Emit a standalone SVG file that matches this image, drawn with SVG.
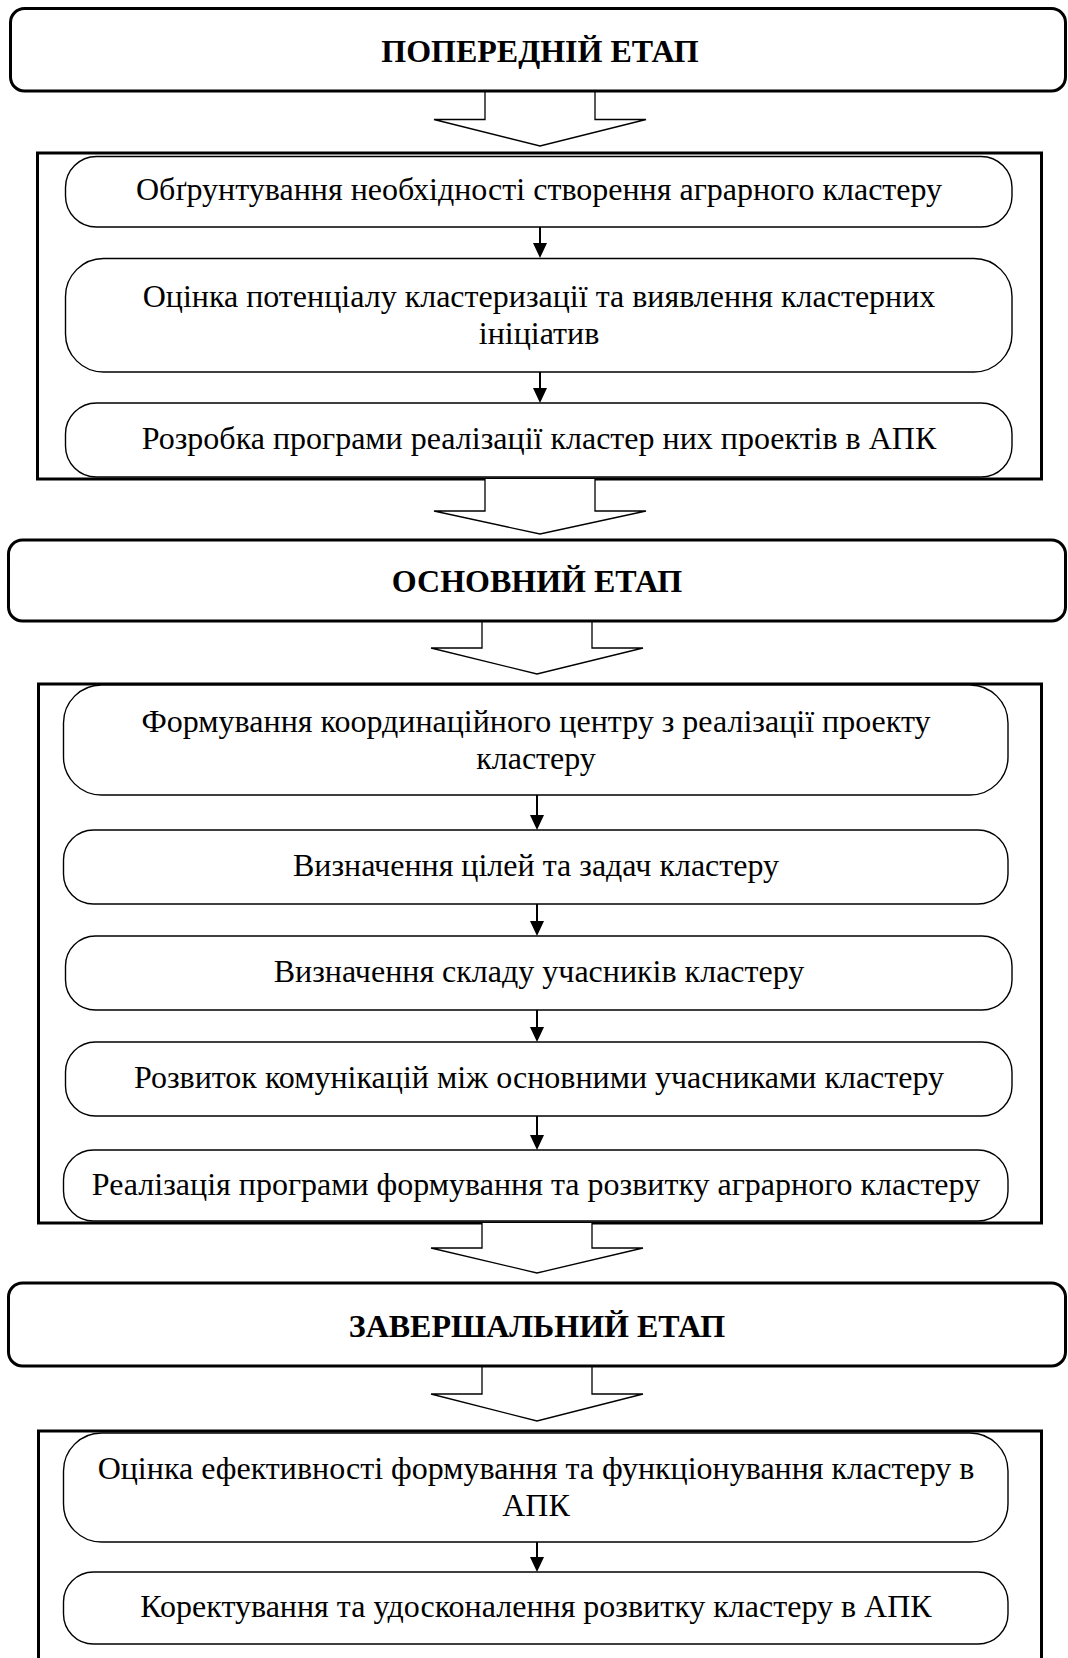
<svg xmlns="http://www.w3.org/2000/svg" width="1068" height="1658" viewBox="0 0 1068 1658">
<style>
.hdr{fill:#fff;stroke:#000;stroke-width:3}
.cont{fill:none;stroke:#000;stroke-width:3}
.box{fill:#fff;stroke:#000;stroke-width:1.4}
.big{fill:#fff;stroke:#000;stroke-width:1.3;stroke-linejoin:miter}
.ln{stroke:#000;stroke-width:2;fill:none}
.t{font-family:"Liberation Serif","Times New Roman",serif;font-size:32px;fill:#000;text-anchor:middle}
.b{font-weight:bold}
</style>
<rect width="1068" height="1658" fill="#fff"/>

<g id="containers">
<rect id="stage1-frame" class="cont" x="37.5" y="153" width="1004" height="326"/>
<rect id="stage2-frame" class="cont" x="38.5" y="684" width="1003" height="539"/>
<rect id="stage3-frame" class="cont" x="38.5" y="1431" width="1003" height="260"/>
</g>

<g id="connectors">
<polyline class="big" points="485,91 485,119.5 434,119.5 540,146 646,119.5 595,119.5 595,91"/>
<polyline class="big" points="485,479 485,511 434,511 540,534 646,511 595,511 595,479"/>
<polyline class="big" points="482,621 482,648 431,648 537,674 643,648 592,648 592,621"/>
<polyline class="big" points="482,1223 482,1248 431,1248 537,1273 643,1248 592,1248 592,1223"/>
<polyline class="big" points="482,1366 482,1394 431,1394 537,1421 643,1394 592,1394 592,1366"/>
<g id="small-arrows">
<line class="ln" x1="540" y1="227" x2="540" y2="243"/><polygon points="533,243 547,243 540,258"/>
<line class="ln" x1="540" y1="372" x2="540" y2="388"/><polygon points="533,388 547,388 540,403"/>
<line class="ln" x1="537" y1="795" x2="537" y2="815"/><polygon points="530,815 544,815 537,830"/>
<line class="ln" x1="537" y1="904" x2="537" y2="921"/><polygon points="530,921 544,921 537,936"/>
<line class="ln" x1="537" y1="1010" x2="537" y2="1027"/><polygon points="530,1027 544,1027 537,1042"/>
<line class="ln" x1="537" y1="1116" x2="537" y2="1135"/><polygon points="530,1135 544,1135 537,1150"/>
<line class="ln" x1="537" y1="1542" x2="537" y2="1557"/><polygon points="530,1557 544,1557 537,1572"/>
</g>
</g>

<g id="stage1">
<rect class="hdr" x="10.5" y="8.5" width="1055" height="82.5" rx="14"/>
<text class="t b" x="540" y="62">ПОПЕРЕДНІЙ ЕТАП</text>
</g>
<g id="s1-a">
<rect class="box" x="65.5" y="156.5" width="946.5" height="70.5" rx="31"/>
<text class="t" x="539" y="200">Обґрунтування необхідності створення аграрного кластеру</text>
</g>
<g id="s1-b">
<rect class="box" x="65.5" y="258.5" width="946.5" height="113.5" rx="38"/>
<text class="t" x="539" y="307">Оцінка потенціалу кластеризації та виявлення кластерних</text>
<text class="t" x="539" y="344">ініціатив</text>
</g>
<g id="s1-c">
<rect class="box" x="65.5" y="403" width="946.5" height="74" rx="31"/>
<text class="t" x="539" y="449">Розробка програми реалізації кластер них проектів в АПК</text>
</g>

<g id="stage2">
<rect class="hdr" x="8.5" y="540" width="1057" height="81" rx="14"/>
<text class="t b" x="537" y="592">ОСНОВНИЙ ЕТАП</text>
</g>
<g id="s2-a">
<rect class="box" x="63.5" y="685" width="944.5" height="110" rx="38"/>
<text class="t" x="536" y="732">Формування координаційного центру з реалізації проекту</text>
<text class="t" x="536" y="769">кластеру</text>
</g>
<g id="s2-b">
<rect class="box" x="63.5" y="830" width="944.5" height="74" rx="30"/>
<text class="t" x="536" y="876">Визначення цілей та задач кластеру</text>
</g>
<g id="s2-c">
<rect class="box" x="65.5" y="936" width="946.5" height="74" rx="30"/>
<text class="t" x="539" y="982">Визначення складу учасників кластеру</text>
</g>
<g id="s2-d">
<rect class="box" x="65.5" y="1042" width="946.5" height="74" rx="30"/>
<text class="t" x="539" y="1088">Розвиток комунікацій між основними учасниками кластеру</text>
</g>
<g id="s2-e">
<rect class="box" x="63.5" y="1150" width="944.5" height="71" rx="30"/>
<text class="t" x="536" y="1195">Реалізація програми формування та розвитку аграрного кластеру</text>
</g>

<g id="stage3">
<rect class="hdr" x="8.5" y="1283" width="1057" height="83" rx="14"/>
<text class="t b" x="537" y="1337">ЗАВЕРШАЛЬНИЙ ЕТАП</text>
</g>
<g id="s3-a">
<rect class="box" x="63.5" y="1433" width="944.5" height="109" rx="38"/>
<text class="t" x="536" y="1479">Оцінка ефективності формування та функціонування кластеру в</text>
<text class="t" x="536" y="1516">АПК</text>
</g>
<g id="s3-b">
<rect class="box" x="63.5" y="1572" width="944.5" height="72" rx="30"/>
<text class="t" x="536" y="1617">Коректування та удосконалення розвитку кластеру в АПК</text>
</g>
</svg>
